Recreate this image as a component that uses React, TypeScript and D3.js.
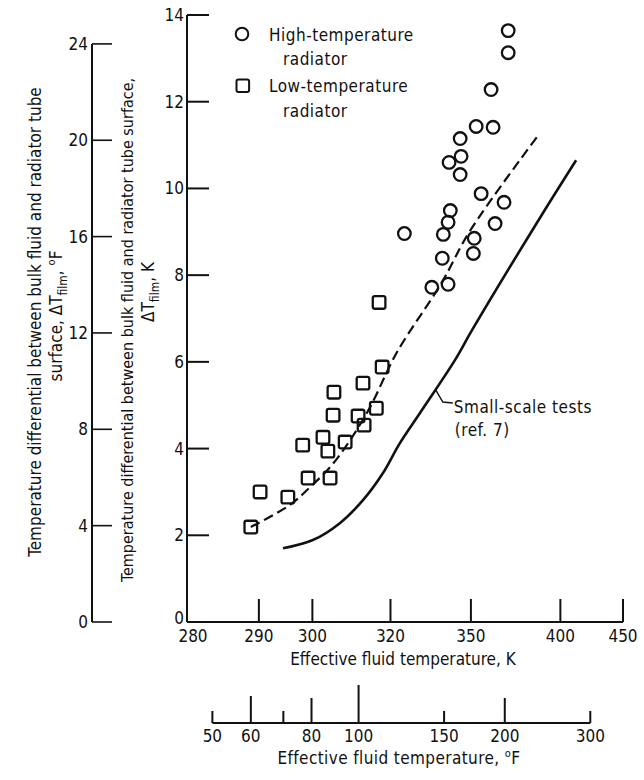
import React from 'react';
import * as d3 from 'd3';

// measured points, K and ΔT_film in K
const highTempK = [368.3, 368.3, 359.5, 352.4, 360.5, 345.3, 340.7, 345.7, 345.3, 354.7, 366.1, 341.2, 340.3, 338.4, 361.5, 351.5, 351.1, 338.0, 340.3, 334.0, 324.4];
const highTempDT = [13.64, 13.13, 12.28, 11.43, 11.41, 11.15, 10.6, 10.74, 10.32, 9.88, 9.68, 9.49, 9.22, 8.94, 9.19, 8.85, 8.5, 8.39, 7.79, 7.72, 8.96];

const lowTempK = [316.6, 317.5, 312.1, 304.8, 315.8, 310.8, 312.4, 304.6, 302.3, 307.5, 298.0, 303.4, 299.1, 303.9, 290.2, 295.1, 288.7];
const lowTempDT = [7.37, 5.88, 5.51, 5.3, 4.93, 4.75, 4.54, 4.77, 4.26, 4.15, 4.08, 3.94, 3.32, 3.32, 3.0, 2.88, 2.19];

// faired curve through the data (dashed)
const fitK = [288.7, 295.5, 299.5, 303.9, 308.7, 314.0, 322.0, 337.6, 349.7, 385.5];
const fitDT = [2.19, 2.7, 3.11, 3.57, 4.19, 4.95, 6.22, 7.81, 9.03, 11.22];

// small-scale tests, ref. 7 (solid)
const smallK = [294.2, 300.1, 306.2, 312.1, 317.7, 322.9, 329.7, 343.1, 350.5, 386.8, 411.2];
const smallDT = [1.7, 1.89, 2.28, 2.81, 3.43, 4.12, 4.82, 6.04, 6.73, 9.33, 10.65];

const kTicks = [290, 300, 320, 350, 400, 450];
const kLabels = [280, 290, 300, 320, 350, 400, 450];
const fBottomTicks = [50, 60, 70, 80, 100, 150, 200, 300];
const fBottomLabels = [50, 60, 80, 100, 150, 200, 300];
const dtKTicks = [0, 2, 4, 6, 8, 10, 12, 14];
const dtFTicks = [0, 4, 8, 12, 16, 20, 24];

const FONT = "'DejaVu Sans Condensed', 'Liberation Sans Narrow', sans-serif";

const kToF = (k: number) => (k - 273.15) * 9 / 5 + 32;

export default function App() {
  // the K axis is laid out logarithmically in degrees F, same as the F scale below it
  const xF = d3.scaleLog().domain([kToF(280), kToF(450)]).range([187, 623]);
  const xK = (k: number) => xF(kToF(k));
  const y = d3.scaleLinear().domain([0, 14]).range([622, 15]);
  const yF = (f: number) => y(f / 1.8);

  const axisY = y(0);
  const fAxisY = 723;
  const leftAxisX = 92;

  const line = d3.line<[number, number]>()
    .x(d => xK(d[0]))
    .y(d => y(d[1]))
    .curve(d3.curveCatmullRom.alpha(0.5));

  const fitPts = fitK.map((k, i) => [k, fitDT[i]] as [number, number]);
  const smallPts = smallK.map((k, i) => [k, smallDT[i]] as [number, number]);

  const bottomTickLen: Record<number, number> = { 50: 12, 60: 27, 70: 12, 80: 25, 100: 38, 150: 12, 200: 25, 300: 12 };

  const sup = (
    <>
      <tspan dy={-7} fontSize={11}>o</tspan>
      <tspan dy={7}>F</tspan>
    </>
  );
  const film = <tspan dy={5} fontSize={12}>film</tspan>;

  const lx = xK(335.5);
  const ly = y(5.35);

  return (
    <svg width={644} height={780} style={{ position: 'absolute', left: 0, top: 0, background: '#fff' }}
      fontFamily={FONT} fontSize={17} fill="#111">
      {/* main K y-axis */}
      <line x1={187} x2={187} y1={axisY} y2={y(14)} stroke="#111" strokeWidth={2} />
      {dtKTicks.map(t => (
        <g key={t}>
          <line x1={187} x2={209} y1={y(t)} y2={y(t)} stroke="#111" strokeWidth={2} />
          <text x={184} y={y(t) + (t === 0 ? 2 : 6)} textAnchor="end">{t}</text>
        </g>
      ))}

      {/* main K x-axis */}
      <line x1={187} x2={xK(450)} y1={axisY} y2={axisY} stroke="#111" strokeWidth={2} />
      {kTicks.map(t => (
        <line key={t} x1={xK(t)} x2={xK(t)} y1={axisY} y2={axisY - 23} stroke="#111" strokeWidth={2} />
      ))}
      {kLabels.map(t => (
        <text key={t} x={xK(t) + (t === 280 ? 6 : 0)} y={axisY + 20} textAnchor="middle">{t}</text>
      ))}
      <text x={403} y={axisY + 43} textAnchor="middle">Effective fluid temperature, K</text>

      {/* left °F axis */}
      <line x1={leftAxisX} x2={leftAxisX} y1={yF(0)} y2={yF(24)} stroke="#111" strokeWidth={2} />
      {dtFTicks.map(t => (
        <g key={t}>
          <line x1={leftAxisX} x2={leftAxisX + 20} y1={yF(t)} y2={yF(t)} stroke="#111" strokeWidth={1.6} />
          <text x={leftAxisX - 4} y={yF(t) + 6} textAnchor="end">{t}</text>
        </g>
      ))}

      {/* y titles */}
      <g transform="translate(41,322) rotate(-90)">
        <text textAnchor="middle">Temperature differential between bulk fluid and radiator tube</text>
      </g>
      <g transform="translate(62,316) rotate(-90)">
        <text textAnchor="middle">surface,  ΔT{film}<tspan dy={-5}>, </tspan>{sup}</text>
      </g>
      <g transform="translate(133,330) rotate(-90)">
        <text textAnchor="middle" fontSize={16}>Temperature differential between bulk fluid and radiator tube surface,</text>
      </g>
      <g transform="translate(154,292) rotate(-90)">
        <text textAnchor="middle">ΔT{film}<tspan dy={-5}>, K</tspan></text>
      </g>

      {/* bottom °F axis */}
      <line x1={xF(50)} x2={xF(300)} y1={fAxisY} y2={fAxisY} stroke="#111" strokeWidth={2} />
      {fBottomTicks.map(t => (
        <line key={t} x1={xF(t)} x2={xF(t)} y1={fAxisY} y2={fAxisY - bottomTickLen[t]} stroke="#111" strokeWidth={2} />
      ))}
      {fBottomLabels.map(t => (
        <text key={t} x={xF(t)} y={fAxisY + 19} textAnchor="middle">{t}</text>
      ))}
      <text x={399} y={fAxisY + 41} textAnchor="middle" letterSpacing={0.4}>Effective fluid temperature, {sup}</text>

      {/* curves */}
      <path d={line(fitPts) ?? ''} fill="none" stroke="#111" strokeWidth={2.2} strokeDasharray="10,5" />
      <path d={line(smallPts) ?? ''} fill="none" stroke="#111" strokeWidth={2.6} />

      {/* data */}
      {highTempK.map((k, i) => (
        <circle key={'h' + i} cx={xK(k)} cy={y(highTempDT[i])} r={6.3} fill="none" stroke="#111" strokeWidth={2.3} />
      ))}
      {lowTempK.map((k, i) => (
        <rect key={'l' + i} x={xK(k) - 6.3} y={y(lowTempDT[i]) - 6.3} width={12.6} height={12.6} rx={2}
          fill="none" stroke="#111" strokeWidth={2.3} />
      ))}

      {/* legend */}
      <circle cx={242} cy={34} r={6.3} fill="none" stroke="#111" strokeWidth={2} />
      <text x={269} y={41} letterSpacing={0.5}>High-temperature</text>
      <text x={283} y={65} letterSpacing={0.5}>radiator</text>
      <rect x={236.5} y={79.5} width={12.6} height={12.6} rx={2} fill="none" stroke="#111" strokeWidth={2} />
      <text x={269} y={92} letterSpacing={0.5}>Low-temperature</text>
      <text x={283} y={117} letterSpacing={0.5}>radiator</text>

      {/* annotation */}
      <path d={`M${lx},${ly} L${lx + 7},${ly + 12} L${lx + 17},${ly + 13}`} fill="none" stroke="#111" strokeWidth={1.4} />
      <text x={lx + 18} y={ly + 23} letterSpacing={0.5}>Small-scale tests</text>
      <text x={lx + 19} y={ly + 46} letterSpacing={0.5}>(ref. 7)</text>
    </svg>
  );
}
